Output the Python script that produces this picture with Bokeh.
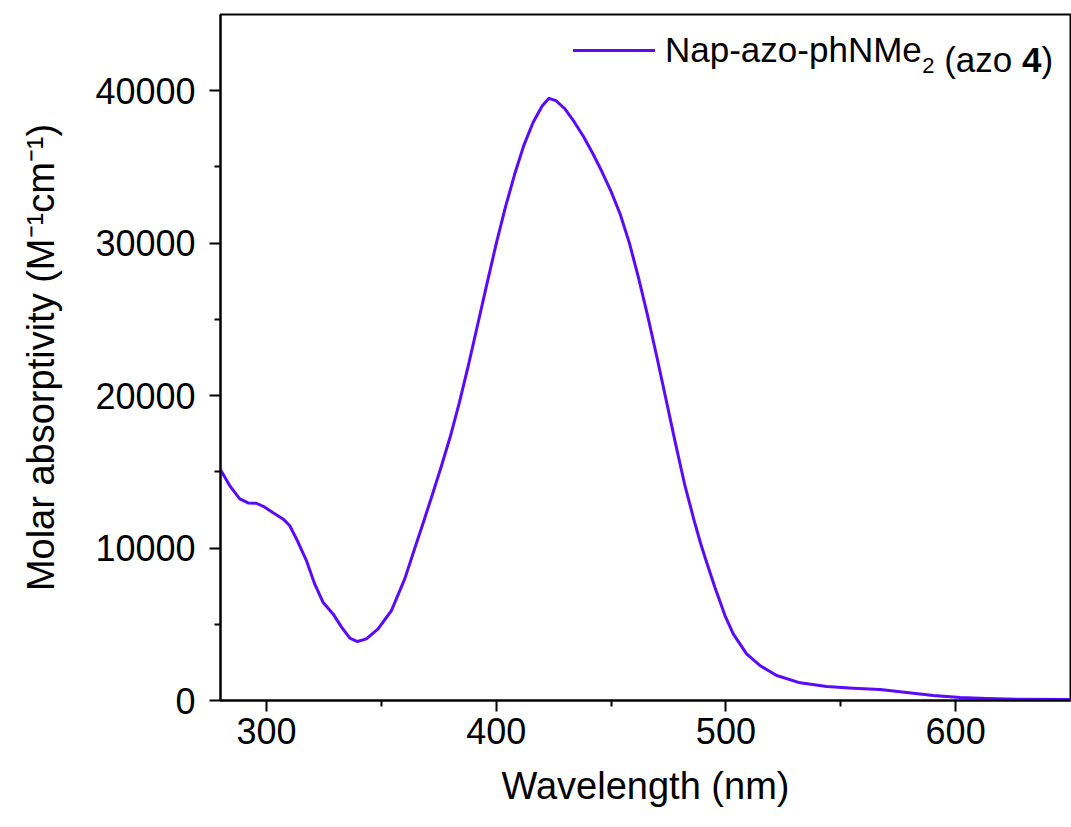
from bokeh.plotting import figure
from bokeh.models import Range1d, FixedTicker, Label, Legend, LegendItem
from bokeh.embed import file_html
from bokeh.resources import INLINE

# ---- data ----
wavelength = [280, 284, 288.4, 292, 295.6, 299.3, 302.9, 307.2, 310.1, 313.8,
              317.4, 321, 324.6, 329, 332.7, 336.3, 339.6, 343.5, 348.6, 354.4,
              360.2, 364.6, 368, 372, 376, 380, 384, 388, 392, 396,
              400, 404, 408, 412, 416, 420, 423, 426, 430, 434,
              438, 442, 446, 450, 454, 458, 462, 466, 470, 474,
              478, 482, 486, 489, 491.6, 495.2, 499.6, 503.2, 509, 514.8,
              522.1, 532.3, 543.9, 555.5, 567.1, 578.7, 590.3, 602, 613.6, 626.6,
              650]
absorptivity = [15130, 14100, 13230, 12960, 12940, 12680, 12310, 11910, 11480, 10380,
                9180, 7650, 6450, 5680, 4810, 4090, 3870, 4040, 4700, 5900,
                7980, 10000, 11550, 13400, 15300, 17300, 19550, 22050, 24700, 27350,
                29950, 32350, 34500, 36400, 37900, 39000, 39500, 39350, 38800, 37950,
                37000, 35900, 34700, 33400, 31900, 30000, 27700, 25200, 22500, 19700,
                16900, 14200, 11900, 10300, 9070, 7430, 5570, 4370, 3060, 2300,
                1640, 1160, 920, 810, 720, 520, 330, 200, 130, 90,
                60]
x_ticks = [300, 400, 500, 600]
x_minor_ticks = [350, 450, 550]
y_ticks = [0, 10000, 20000, 30000, 40000]
y_minor_ticks = [5000, 15000, 25000, 35000]
x_label = "Wavelength (nm)"
y_label = "Molar absorptivity (M\u207b\u00b9cm\u207b\u00b9)"
series_name = "Nap-azo-phNMe"
series_sub = "2"
series_mid = "(azo"
series_bold = "4"
series_end = ")"

X_MIN, X_MAX = 280, 650
Y_MIN, Y_MAX = 0, 45000
LEFT, TOP, FW, FH = 220, 14, 850, 686
FONT = "Liberation Sans"
CURVE = "#5a0aff"

p = figure(frame_width=FW, frame_height=FH,
           min_border_left=LEFT, min_border_right=1,
           min_border_top=TOP, min_border_bottom=127,
           x_range=Range1d(X_MIN, X_MAX), y_range=Range1d(Y_MIN, Y_MAX),
           output_backend="svg", toolbar_location=None)
p.background_fill_color = "white"
p.border_fill_color = "white"
p.outline_line_color = "black"
p.outline_line_width = 2
p.xgrid.visible = False
p.ygrid.visible = False

for ax in (p.xaxis[0], p.yaxis[0]):
    ax.axis_line_width = 2
    ax.axis_line_color = "black"
    ax.major_tick_line_width = 2
    ax.minor_tick_line_width = 2
    ax.major_tick_in = 0
    ax.minor_tick_in = 0
    ax.major_tick_out = 11
    ax.minor_tick_out = 6
    ax.major_label_text_font = FONT
    ax.major_label_text_font_size = "36px"
    ax.major_label_text_color = "black"
    ax.axis_label_text_font = FONT
    ax.axis_label_text_font_size = "38px"
    ax.axis_label_text_font_style = "normal"
    ax.axis_label_text_color = "black"

p.xaxis[0].ticker = FixedTicker(ticks=x_ticks, minor_ticks=x_minor_ticks)
p.yaxis[0].ticker = FixedTicker(ticks=y_ticks, minor_ticks=y_minor_ticks)
p.xaxis[0].axis_label = x_label
p.yaxis[0].axis_label = y_label
p.xaxis[0].major_label_standoff = 6
p.xaxis[0].axis_label_standoff = 18
p.yaxis[0].major_label_standoff = 14
p.yaxis[0].axis_label_standoff = 30

r = p.line(wavelength, absorptivity, line_color=CURVE, line_width=3,
           line_join="round", line_cap="round")

# ---- legend ----
LEG_SIZE = 35
SUB_SIZE = 22
legend = Legend(items=[LegendItem(label=series_name, renderers=[r])],
                location=(353, 630), orientation="vertical")
legend.border_line_color = None
legend.background_fill_alpha = 0
legend.padding = 0
legend.margin = 0
legend.spacing = 0
legend.glyph_width = 82
legend.glyph_height = 20
legend.label_standoff = 10
legend.label_text_font = FONT
legend.label_text_font_size = f"{LEG_SIZE}px"
legend.label_text_color = "black"
p.add_layout(legend)

ARIAL = {"N": .722, "a": .556, "p": .556, "-": .333, "z": .5, "o": .556, "h": .556,
         "M": .833, "e": .556, " ": .278, "(": .333, ")": .333, "2": .556, "4": .556}


def tw(s, size):
    return sum(ARIAL[c] for c in s) * size


def px_x(px):
    return X_MIN + (px - LEFT) * (X_MAX - X_MIN) / FW


def px_y(py):
    return Y_MIN + (TOP + FH - py) * (Y_MAX - Y_MIN) / FH


text_x0 = LEFT + 353 + 82 + 10
base_y = 59
space = tw(" ", LEG_SIZE)
cur = text_x0 + tw(series_name, LEG_SIZE)
pieces = [(series_sub, SUB_SIZE, "normal", base_y + 6, 0),
          (series_mid, LEG_SIZE, "normal", base_y, space),
          (series_bold, LEG_SIZE, "bold", base_y, space),
          (series_end, LEG_SIZE, "normal", base_y, 0)]
for txt, size, style, by, gap in pieces:
    cur += gap
    p.add_layout(Label(x=px_x(cur), y=px_y(by), text=txt,
                       text_font=FONT, text_font_size=f"{size}px",
                       text_font_style=style, text_color="black",
                       text_baseline="alphabetic", text_align="left"))
    cur += tw(txt, size)

open("out.html", "w").write(file_html(p, INLINE))
